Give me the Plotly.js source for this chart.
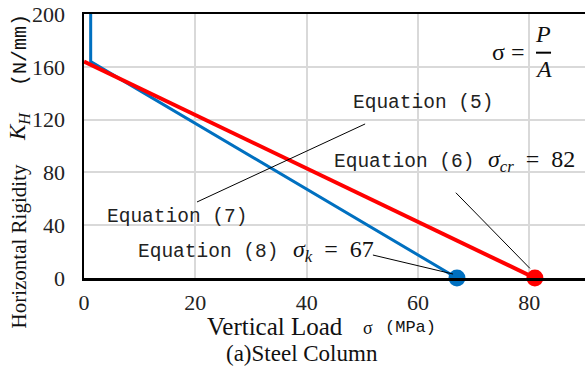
<!DOCTYPE html>
<html>
<head>
<meta charset="utf-8">
<script src="https://cdn.plot.ly/plotly-3.0.1.min.js"></script>
<style>html,body{margin:0;padding:0;background:#fff;}#chart{width:585px;height:368px;}</style>
</head>
<body>
<div id="chart"></div>
<script>
// Data
const eq8X = [1.2, 1.2, 67];      // Equation (8) / blue
const eq8Y = [200, 164, 0];
const eq6X = [0, 81];             // Equation (6) / red
const eq6Y = [164, 0];
const sigmaK = 67;
const sigmaCr = 81;
const sigmaCrLabel = 82;
const xTicks = [0, 20, 40, 60, 80];
const yTicks = [0, 40, 80, 120, 160, 200];

const blue = '#0070C0';
const red = '#FF0000';
const serif = 'Liberation Serif, Times New Roman, serif';
const mono = 'Liberation Mono, Noto Sans CJK JP, monospace';

const traces = [
  {x: eq8X, y: eq8Y, mode: 'lines', line: {color: blue, width: 3}, hoverinfo: 'skip'},
  {x: eq6X, y: eq6Y, mode: 'lines', line: {color: red, width: 4}, hoverinfo: 'skip'},
  {x: [sigmaK], y: [0], mode: 'markers', marker: {color: blue, size: 17}, cliponaxis: false},
  {x: [sigmaCr], y: [0], mode: 'markers', marker: {color: red, size: 17}, cliponaxis: false}
];

function eqText(n) { return 'Equation (' + n + ')'; }
const eqFont = {family: mono, size: 19.5, color: '#222'};
const mathFont = {family: serif, size: 24, color: '#111'};
const sp = '\u2002';

function dataAnn(x, y, text, font, xanchor) {
  return {x: x, y: y, xref: 'x', yref: 'y', xanchor: xanchor || 'left', yanchor: 'middle', text: text, font: font, showarrow: false};
}
// paper-positioned helper using pixel coordinates of the page
function pxAnn(px, py, text, font, angle) {
  return {x: (px - 84) / 501, y: (278 - py) / 264, xref: 'paper', yref: 'paper', xanchor: 'center', yanchor: 'middle',
          text: text, font: font, showarrow: false, textangle: angle || 0};
}

const annotations = [
  dataAnn(48.0, 132.6, eqText(5), eqFont),
  dataAnn(44.6, 88.1, eqText(6), eqFont),
  dataAnn(3.8, 46.4, eqText(7), eqFont),
  dataAnn(9.4, 19.9, eqText(8), eqFont),
  dataAnn(72.2, 89, '<i>σ</i><sub><i>cr</i></sub>' + sp + '=' + sp + sigmaCrLabel, mathFont),
  dataAnn(37.2, 20.5, '<i>σ</i><sub><i>k</i></sub>' + sp + '=' + sp + sigmaK, mathFont),
  dataAnn(73.0, 171.2, 'σ =', mathFont),
  dataAnn(82.5, 184.8, '<i>P</i>', mathFont, 'center'),
  dataAnn(82.5, 158.3, '<i>A</i>', mathFont, 'center'),
  // y axis title pieces
  pxAnn(19, 246.5, 'Horizontal Rigidity', {family: serif, size: 21, color: '#111'}, -90),
  pxAnn(19, 127, '<i>K</i><sub><i>H</i></sub>', {family: serif, size: 23, color: '#111'}, -90),
  pxAnn(20, 50, '(N/mm)', {family: mono, size: 20, color: '#111'}, -90),
  // x axis title pieces
  pxAnn(275, 326, 'Vertical Load', {family: serif, size: 25, color: '#111'}),
  pxAnn(368, 328, 'σ', {family: serif, size: 18, color: '#111'}),
  pxAnn(410, 327, '(MPa)', {family: mono, size: 17, color: '#111'}),
  // caption
  pxAnn(302, 353, '(a)Steel Column', {family: serif, size: 23, color: '#111'})
];

const shapes = [
  {type: 'line', xref: 'x', yref: 'y', x0: 50.5, y0: 116.7, x1: 20.3, y1: 57.6, line: {color: '#000', width: 1}},
  {type: 'line', xref: 'x', yref: 'y', x0: 66.8, y0: 64.6, x1: 80.1, y1: 7.3, line: {color: '#000', width: 1}},
  {type: 'line', xref: 'x', yref: 'y', x0: 51.9, y0: 17.4, x1: 66.3, y1: 3, line: {color: '#000', width: 1}},
  {type: 'line', xref: 'x', yref: 'y', x0: 81.2, y0: 170.7, x1: 83.9, y1: 170.7, line: {color: '#000', width: 2}}
];

const layout = {
  width: 585, height: 368,
  margin: {l: 84, r: 0, t: 14, b: 90},
  paper_bgcolor: '#fff', plot_bgcolor: '#fff',
  showlegend: false,
  xaxis: {range: [0, 90], tickvals: xTicks, ticktext: xTicks.map(String), showgrid: true, gridcolor: '#d9d9d9', gridwidth: 2,
          zeroline: false, showline: true, linecolor: '#000', linewidth: 2.5, mirror: true, ticks: '',
          tickfont: {family: serif, size: 22, color: '#222'}, ticklabelstandoff: 3, fixedrange: true},
  yaxis: {range: [0, 200], tickvals: yTicks, ticktext: yTicks.map(String), showgrid: true, gridcolor: '#d9d9d9', gridwidth: 2,
          zeroline: false, showline: true, linecolor: '#000', linewidth: 2.5, ticks: '',
          tickfont: {family: serif, size: 22, color: '#222'}, ticklabelstandoff: 12, fixedrange: true},
  annotations: annotations,
  shapes: shapes
};

Plotly.newPlot('chart', traces, layout, {staticPlot: true});
</script>
</body>
</html>
